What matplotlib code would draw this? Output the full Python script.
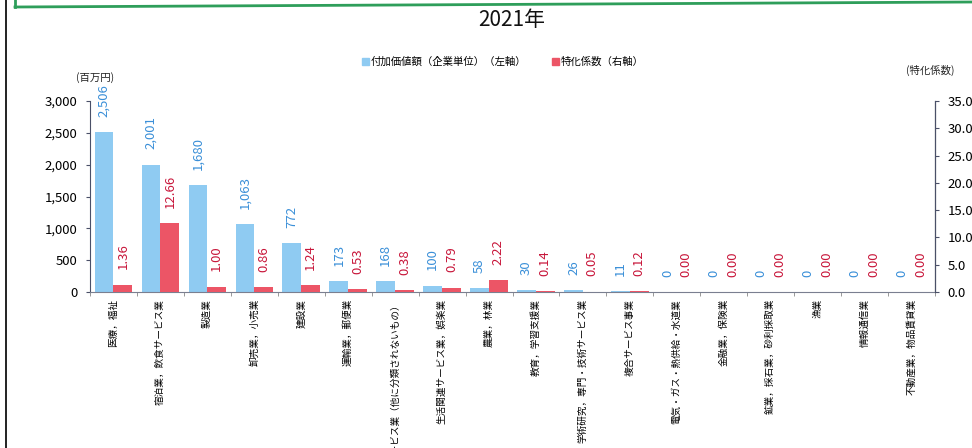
import matplotlib
matplotlib.use("Agg")
import matplotlib.pyplot as plt
from matplotlib.lines import Line2D
from matplotlib.patches import Patch
import numpy as np

plt.rcParams['font.family'] = ['Noto Sans CJK JP', 'DejaVu Sans']

categories = ["医療，福祉", "宿泊業，飲食サービス業", "製造業", "卸売業，小売業", "建設業",
              "運輸業，郵便業", "サービス業（他に分類されないもの）", "生活関連サービス業，娯楽業",
              "農業，林業", "教育，学習支援業", "学術研究，専門・技術サービス業", "複合サービス事業",
              "電気・ガス・熱供給・水道業", "金融業，保険業", "鉱業，採石業，砂利採取業",
              "漁業", "情報通信業", "不動産業，物品賃貸業"]
value_added = [2506, 2001, 1680, 1063, 772, 173, 168, 100, 58, 30, 26, 11, 0, 0, 0, 0, 0, 0]
specialization = [1.36, 12.66, 1.00, 0.86, 1.24, 0.53, 0.38, 0.79, 2.22, 0.14, 0.05, 0.12,
                  0.00, 0.00, 0.00, 0.00, 0.00, 0.00]
left_ticks = [0, 500, 1000, 1500, 2000, 2500, 3000]
right_ticks = [0, 5, 10, 15, 20, 25, 30, 35]

W, H = 972, 448
fig = plt.figure(figsize=(W / 100, H / 100), dpi=100)
fig.patch.set_facecolor('white')

ax_l, ax_r, ax_t, ax_b = 90, 935, 101, 292
ax = fig.add_axes([ax_l / W, 1 - ax_b / H, (ax_r - ax_l) / W, (ax_b - ax_t) / H])
ax2 = ax.twinx()

blue = '#8fcbf2'
red = '#ec5566'
blue_txt = '#3a8fd8'
red_txt = '#c8163a'
axis_col = '#4a5068'

x = np.arange(len(categories))
bw = 0.4
ax.bar(x - bw / 2, value_added, bw, color=blue, zorder=2)
ax2.bar(x + bw / 2, specialization, bw, color=red, zorder=2)

ax.set_xlim(-0.5, len(categories) - 0.5)
ax.set_ylim(0, 3000)
ax2.set_ylim(0, 35)

ax.set_yticks(left_ticks)
ax.set_yticklabels([f"{v:,}" for v in left_ticks])
ax2.set_yticks(right_ticks)
ax2.set_yticklabels([f"{v:.1f}" for v in right_ticks])

ax.set_xticks(x)
ax.set_xticklabels(categories, rotation=90, fontsize=6.9, va='top', ha='center')
ax.set_xticks(np.arange(-0.5, len(categories), 1.0), minor=True)
ax.tick_params(axis='x', which='major', length=0, pad=5)
ax.tick_params(axis='x', which='minor', length=3, color='#888888')
ax.tick_params(axis='y', length=3, color=axis_col, labelsize=9.5, pad=6)
ax2.tick_params(axis='y', length=3, color=axis_col, labelsize=9.5, pad=6)

for a in (ax, ax2):
    a.spines['top'].set_visible(False)
ax.spines['left'].set_color(axis_col)
ax.spines['bottom'].set_color('#7a7f90')
ax2.spines['right'].set_color(axis_col)
ax2.spines['left'].set_visible(False)
ax2.spines['bottom'].set_visible(False)
ax.set_facecolor('none')

off = 11
for xi, v in zip(x, value_added):
    ax.annotate(f"{v:,}", (xi - bw / 2, v), xytext=(0, off), textcoords='offset points',
                rotation=90, ha='center', va='bottom', color=blue_txt, fontsize=9.5)
for xi, v in zip(x, specialization):
    ax2.annotate(f"{v:.2f}", (xi + bw / 2, v), xytext=(0, off), textcoords='offset points',
                 rotation=90, ha='center', va='bottom', color=red_txt, fontsize=9.5)

fig.text(512 / W, 1 - 20 / H, "2021年", ha='center', va='center', fontsize=15, color='#111111')
fig.text(95 / W, 1 - 78 / H, "(百万円)", ha='center', va='center', fontsize=7.5, color='#222222')
fig.text(930 / W, 1 - 70 / H, "(特化係数)", ha='center', va='center', fontsize=7.5, color='#222222')

handles = [Patch(color=blue, label="付加価値額（企業単位）（左軸）"),
           Patch(color=red, label="特化係数（右軸）")]
fig.legend(handles=handles, loc='center', bbox_to_anchor=(503 / W, 1 - 62 / H), ncol=2,
           frameon=False, fontsize=7.5, handlelength=0.6, handleheight=0.6,
           handletextpad=0.2, columnspacing=2.5)

# scanned page decorations
fig.add_artist(Line2D([6 / W, 6 / W], [0, 1], color='#111111', lw=1.3))
fig.add_artist(Line2D([15 / W, 972 / W], [1 - 7 / H, 1 - 2 / H], color='#2e9e5a', lw=2))
fig.add_artist(Line2D([15 / W, 15 / W], [1 - 7 / H, 1], color='#2e9e5a', lw=2))

fig.savefig("out.png", dpi=100)
